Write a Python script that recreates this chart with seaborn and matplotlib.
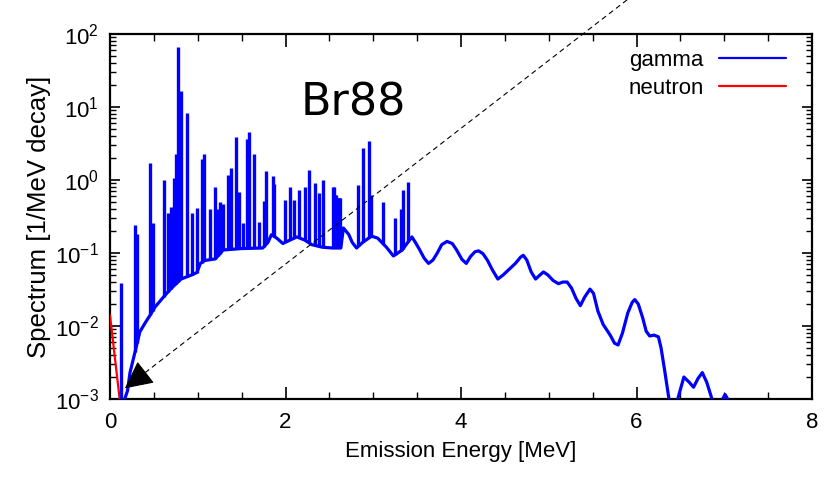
import numpy as np
import pandas as pd
import matplotlib
matplotlib.use("Agg")
import matplotlib.pyplot as plt
import seaborn as sns

# ---------------- data ----------------
# gamma continuum (MeV, 1/MeV decay)
cont_energy = [0.155, 0.20, 0.228, 0.285, 0.34, 0.40, 0.456, 0.51, 0.61, 0.70,
               0.81, 0.93, 0.99, 1.03, 1.08, 1.20, 1.29, 1.50, 1.74, 1.80,
               1.84, 1.90, 1.97, 2.05, 2.13, 2.22, 2.30, 2.42, 2.54, 2.63,
               2.66, 2.72, 2.76, 2.81, 2.88, 2.98, 3.05, 3.15, 3.23, 3.33,
               3.44, 3.48, 3.53, 3.58, 3.63, 3.68, 3.73, 3.78, 3.84, 3.90,
               3.95, 4.01, 4.06, 4.11, 4.16, 4.20, 4.25, 4.30, 4.36, 4.42,
               4.48, 4.55, 4.62, 4.68, 4.71, 4.75, 4.80, 4.85, 4.90, 4.94,
               4.99, 5.05, 5.11, 5.16, 5.21, 5.26, 5.31, 5.36, 5.41, 5.47,
               5.51, 5.56, 5.62, 5.70, 5.75, 5.79, 5.84, 5.90, 5.95, 5.98,
               6.02, 6.07, 6.11, 6.15, 6.20, 6.25, 6.28, 6.32, 6.37, 6.40,
               6.45, 6.47, 6.54, 6.60, 6.65, 6.70, 6.75, 6.80, 6.86, 6.90,
               6.96, 7.01, 7.06, 7.10]
cont_value = [0.0009, 0.0013, 0.0023, 0.0044, 0.0083, 0.011, 0.014, 0.018, 0.025, 0.033,
              0.044, 0.050, 0.054, 0.072, 0.079, 0.083, 0.11, 0.115, 0.117, 0.14,
              0.178, 0.16, 0.135, 0.15, 0.166, 0.15, 0.13, 0.12, 0.117, 0.117,
              0.22, 0.18, 0.14, 0.117, 0.14, 0.17, 0.16, 0.12, 0.091, 0.11,
              0.166, 0.14, 0.11, 0.085, 0.072, 0.08, 0.10, 0.13, 0.144, 0.135,
              0.11, 0.082, 0.072, 0.09, 0.104, 0.107, 0.098, 0.08, 0.058, 0.044,
              0.05, 0.06, 0.072, 0.088, 0.093, 0.08, 0.055, 0.044, 0.05, 0.055,
              0.05, 0.042, 0.038, 0.040, 0.040, 0.033, 0.024, 0.019, 0.025, 0.032,
              0.028, 0.016, 0.0105, 0.0075, 0.0058, 0.0055, 0.008, 0.015, 0.021, 0.023,
              0.02, 0.013, 0.0085, 0.0073, 0.0075, 0.0071, 0.005, 0.0025, 0.001, 0.0005,
              0.0005, 0.001, 0.002, 0.0017, 0.00145, 0.0019, 0.0023, 0.0017, 0.001, 0.0005,
              0.0009, 0.00115, 0.0009, 0.0005]

# discrete gamma lines (MeV, peak height 1/MeV decay)
line_energy = [0.125, 0.285, 0.31, 0.456, 0.485, 0.61, 0.665, 0.695, 0.735, 0.755,
               0.78, 0.805, 0.875, 0.935, 0.99, 1.045, 1.072, 1.145, 1.197, 1.23,
               1.25, 1.285, 1.35, 1.375, 1.436, 1.474, 1.52, 1.566, 1.584, 1.637,
               1.695, 1.755, 1.778, 1.854, 1.87, 1.995, 2.05, 2.10, 2.15, 2.22,
               2.27, 2.336, 2.385, 2.43, 2.545, 2.555, 2.565, 2.575, 2.585, 2.595,
               2.605, 2.615, 2.625, 2.83, 2.88, 2.95, 2.975, 3.11, 3.25, 3.32,
               3.34, 3.40]
line_value = [0.039, 0.24, 0.18, 1.7, 0.26, 1.0, 0.35, 0.43, 1.07, 2.3,
              66.0, 16.6, 8.3, 0.35, 0.42, 1.95, 2.3, 0.40, 0.79, 0.40,
              0.50, 0.47, 1.17, 1.45, 3.9, 0.69, 0.26, 3.6, 4.6, 2.3,
              0.27, 0.52, 1.32, 1.12, 0.89, 0.54, 0.79, 0.54, 0.74, 0.81,
              1.35, 0.91, 0.66, 1.0, 0.81, 0.81, 0.62, 0.62, 0.56, 0.56,
              0.56, 0.56, 0.56, 0.85, 2.75, 3.4, 0.63, 0.50, 0.30, 0.40,
              0.72, 0.93]

# neutron spectrum
neutron_energy = [0.0, 0.11, 0.12]
neutron_value = [0.014, 0.001, 0.0005]

series_labels = ["gamma", "neutron"]
x_ticks = [0, 2, 4, 6, 8]
title_text = "Br88"
x_label = "Emission Energy [MeV]"
y_label = "Spectrum [1/MeV decay]"

# arrow: tip, point just behind the head, and start (outside the axes)
arrow_tip = (0.17, 0.0014)
arrow_neck = (0.44, 0.0025)
arrow_start = (5.89, 292)

# ---------------- style ----------------
sns.set_style("ticks")
plt.rcParams["font.family"] = ["Liberation Sans", "DejaVu Sans"]
plt.rcParams["mathtext.fontset"] = "custom"
plt.rcParams["mathtext.rm"] = "Liberation Sans"
plt.rcParams["mathtext.default"] = "regular"
plt.rcParams["text.color"] = "black"
plt.rcParams["axes.labelcolor"] = "black"
plt.rcParams["xtick.color"] = "black"
plt.rcParams["ytick.color"] = "black"

fig = plt.figure(figsize=(8.33, 4.8), dpi=100)
ax = fig.add_axes([110 / 833, 81 / 480, 702 / 833, 365 / 480])

gamma_df = pd.DataFrame({"energy": cont_energy, "value": cont_value})
neutron_df = pd.DataFrame({"energy": neutron_energy, "value": neutron_value})

blue = "#0000ff"
sns.lineplot(data=gamma_df, x="energy", y="value", ax=ax, color=blue,
             lw=2.3, sort=False, estimator=None, label=series_labels[0], zorder=3)
sns.lineplot(data=neutron_df, x="energy", y="value", ax=ax, color="#ff0000",
             lw=1.6, sort=False, estimator=None, label=series_labels[1], zorder=3)

# spikes: vertical lines from the continuum up to each line's peak
line_e = np.asarray(line_energy)
base = 10 ** np.interp(line_e, cont_energy, np.log10(cont_value))
ax.vlines(line_e, base, line_value, color=blue, lw=2.4, zorder=3)

ax.set_yscale("log")
ax.set_xlim(0, 8)
ax.set_ylim(1e-3, 1e2)
ax.set_xticks(x_ticks)
ax.set_xticks(np.arange(0, 8.01, 0.5), minor=True)
ax.set_xticklabels([str(t) for t in x_ticks])

ax.tick_params(axis="both", which="both", direction="in", top=True, right=True,
               colors="black", labelsize=16)
ax.tick_params(axis="both", which="major", length=9, width=1.2, pad=9)
ax.tick_params(axis="both", which="minor", length=5, width=1.0)
ax.tick_params(axis="y", which="major", length=7, pad=8)
ax.tick_params(axis="y", which="minor", length=4)

for s in ax.spines.values():
    s.set_linewidth(1.6)
    s.set_color("black")

ax.set_xlabel(x_label, fontsize=16, labelpad=6)
ax.set_ylabel(y_label, fontsize=18.5, labelpad=3)

# title text inside the plot
ax.text(301 / 833, (480 - 115) / 480, title_text, transform=fig.transFigure,
        fontsize=32, family="DejaVu Sans", color="black", ha="left", va="baseline")

# dashed line + solid arrow head
ax.annotate("", xy=arrow_neck, xytext=arrow_start,
            arrowprops=dict(arrowstyle="-", linestyle=(0, (4, 4)), lw=0.8,
                            color="black", shrinkA=0, shrinkB=0),
            annotation_clip=False, zorder=5)
ax.annotate("", xy=arrow_tip, xytext=arrow_neck,
            arrowprops=dict(arrowstyle="-|>,head_length=0.4,head_width=0.2",
                            lw=0.8, color="black", mutation_scale=44,
                            shrinkA=0, shrinkB=0),
            annotation_clip=False, zorder=5)

leg = ax.legend(loc="upper right", bbox_to_anchor=(786 / 833, (480 - 50) / 480),
                bbox_transform=fig.transFigure, markerfirst=False, frameon=False,
                fontsize=16, handlelength=3.0, handletextpad=0.7,
                labelspacing=0.3, borderpad=0, borderaxespad=0)
for ln in leg.get_lines():
    ln.set_linewidth(1.6)

fig.savefig("out.png", dpi=100)
